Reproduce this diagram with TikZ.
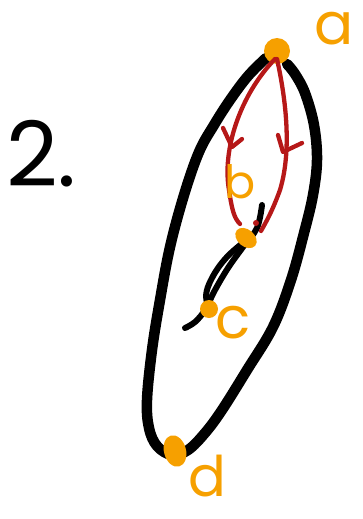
\documentclass[tikz,border=0pt]{standalone}
\usepackage{fontspec}
\usetikzlibrary{shapes.geometric}
\setmainfont{Poppins}
\definecolor{sketchorange}{RGB}{246,160,0}
\definecolor{sketchred}{RGB}{182,24,24}
\tikzset{
  outerloop/.style={line width=10.5pt, line cap=round, line join=round, black},
  innerline/.style={line width=6pt, line cap=round, line join=round, black},
  redline/.style={line width=4.3pt, line cap=round, line join=round, sketchred},
  vertexdot/.style={circle, fill=sketchorange, inner sep=0pt},
  vlabel/.style={text=sketchorange, inner sep=0pt, text depth=0pt},
}
\begin{document}
\begin{tikzpicture}[x=1pt,y=-1pt]
\useasboundingbox (0,0) rectangle (363,519);
% number
\node[inner sep=0pt, anchor=base west] (num) at (6,186) {\fontsize{90}{90}\selectfont 2.};
% outer loop
\coordinate (ls) at (266,58);
\coordinate (re) at (287,64);
\draw[outerloop] plot[smooth, tension=0.6] coordinates {
  (ls) (248,76) (230,100) (214,125) (199,152) (184,195) (170,247) (160,300)
  (152,350) (147,400) (149,428) (157,446) (172,455) (188,450) (205,433)
  (222,410) (247,370) (273,327) (291,280) (304,233) (313,195) (317,160)
  (314,125) (305,93) (295,74) (re)};
% inner black stroke
\coordinate (it) at (262,205);
\coordinate (ie) at (185,328);
\draw[innerline] plot[smooth, tension=0.6] coordinates {
  (it) (257,228) (243,247) (228,268) (215,290) (205,310) (195,322) (ie)};
\draw[innerline] plot[smooth, tension=0.7] coordinates {
  (244,242) (226,258) (212,278) (206,296) (210,308)};
% vertices
\node[vertexdot, minimum width=26pt, minimum height=26pt] (a) at (277,51) {};
\node[vertexdot, ellipse, minimum width=24pt, minimum height=17pt, rotate=-40] (b) at (246,238) {};
\node[vertexdot, minimum size=18pt] (c) at (209,309) {};
\node[vertexdot, ellipse, minimum width=22pt, minimum height=32pt, rotate=15] (d) at (175,451) {};
% red arrows a -> b
\draw[redline] (a.center) ++(-2,8) coordinate (la)
  .. controls (240,95) and (222,150) .. (229,190)
  .. controls (232,210) and (234,218) .. (240,224) coordinate (lb);
\draw[redline] (a.center) ++(0,8) coordinate (ra)
  .. controls (286,100) and (292,150) .. (280,190)
  .. controls (272,212) and (266,222) .. (261,231) coordinate (rb);
\draw[redline] (223,128) -- (232,147) -- (242,139);
\draw[redline] (278,135) -- (283,152) -- (302,143);
\fill[sketchred] (256,223) circle (3pt);
% labels
\node[vlabel, anchor=base, font=\fontsize{58}{58}\selectfont] (la1) at (334,45) {a};
\node[vlabel, anchor=base, font=\fontsize{46}{46}\selectfont] (lb1) at (240,198) {b};
\node[vlabel, anchor=base, font=\fontsize{58}{58}\selectfont] (lc1) at (233,338) {c};
\node[vlabel, anchor=base, font=\fontsize{56}{56}\selectfont] (ld1) at (207,496) {d};
\end{tikzpicture}
\end{document}
